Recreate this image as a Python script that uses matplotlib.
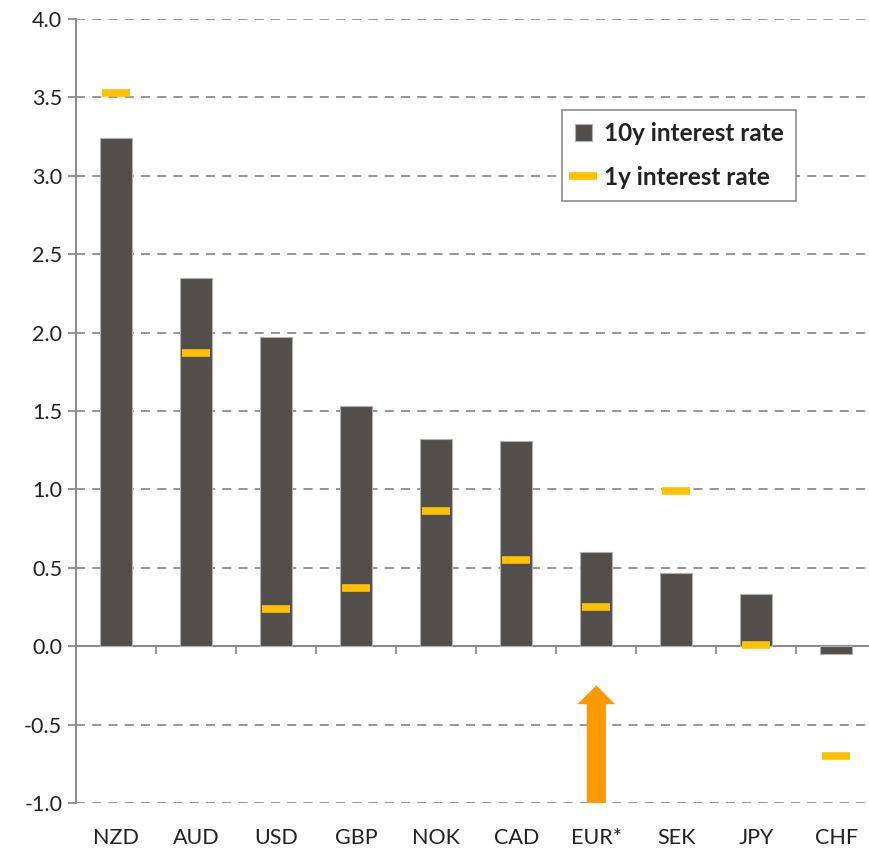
import matplotlib
matplotlib.use("Agg")
import matplotlib.pyplot as plt
import numpy as np

# currencies and rates (%)
currencies = ["NZD", "AUD", "USD", "GBP", "NOK", "CAD", "EUR*", "SEK", "JPY", "CHF"]
rate_10y = [3.24, 2.35, 1.97, 1.53, 1.32, 1.31, 0.60, 0.47, 0.33, -0.05]
rate_1y = [3.53, 1.87, 0.24, 0.37, 0.86, 0.55, 0.25, 0.99, 0.01, -0.70]

# arrow under EUR*
arrow_idx = 6
arrow_from = -1.0
arrow_to = -0.25

plt.rcParams['font.family'] = ['Lato', 'DejaVu Sans']

fig = plt.figure(figsize=(8.7, 8.52), dpi=100)
ax = fig.add_axes([0.0874, 0.0575, 0.92, 0.9202])

x = np.arange(len(currencies))
bars = ax.bar(x, rate_10y, width=0.4, color="#524E4C", edgecolor="#B0B0B0",
              linewidth=0.8, label="10y interest rate", zorder=3)
marks, = ax.plot(x, rate_1y, ls="none", marker="_", ms=20, mew=5.5, color="#FFC000",
                 label="1y interest rate", zorder=4)

ax.arrow(arrow_idx, arrow_from, 0, arrow_to - arrow_from, width=0.24,
         head_width=0.47, head_length=0.12, length_includes_head=True,
         color="#FF9900", lw=0, zorder=4)

ax.set_xlim(-0.5, len(currencies) - 0.5)
ax.set_ylim(-1.0, 4.0)
ax.set_yticks(np.arange(-1.0, 4.01, 0.5))
ax.set_yticklabels([f"{v:.1f}" for v in np.arange(-1.0, 4.01, 0.5)])
ax.yaxis.grid(True, ls=(0, (5, 4)), color="#8C8C8C", lw=1.3, zorder=0)
ax.set_axisbelow(True)

for s in ["top", "right", "bottom"]:
    ax.spines[s].set_visible(False)
ax.spines["left"].set_color("#8C8C8C")
ax.spines["left"].set_linewidth(1.5)

ax.set_xticks(x)
ax.set_xticklabels(currencies)
ax.tick_params(axis="x", length=0, pad=18, labelsize=15.5, labelcolor="#222222")
ax.tick_params(axis="y", length=6, color="#8C8C8C", width=1.3, labelsize=15.5,
               labelcolor="#222222", pad=4)

# zero line with category separator ticks
zero = ax.secondary_xaxis(0.2)
zero.set_xticks(np.arange(0.5, len(currencies) - 0.5, 1))
zero.set_xticklabels([])
zero.tick_params(length=6, color="#8C8C8C", width=1.3)
zero.spines["bottom"].set_color("#8C8C8C")
zero.spines["bottom"].set_linewidth(1.5)

leg = ax.legend([bars, marks], ["10y interest rate", "1y interest rate"],
                loc="upper right", bbox_to_anchor=(0.899, 0.884),
                borderaxespad=0,
                prop={"weight": "bold", "size": 17.5}, fancybox=False,
                edgecolor="#8C8C8C", framealpha=1, handlelength=0.7,
                handletextpad=0.5, borderpad=0.5, labelspacing=0.85)
leg.get_frame().set_linewidth(1.2)
for t in leg.get_texts():
    t.set_color("#222222")

fig.savefig("out.png", dpi=100)
